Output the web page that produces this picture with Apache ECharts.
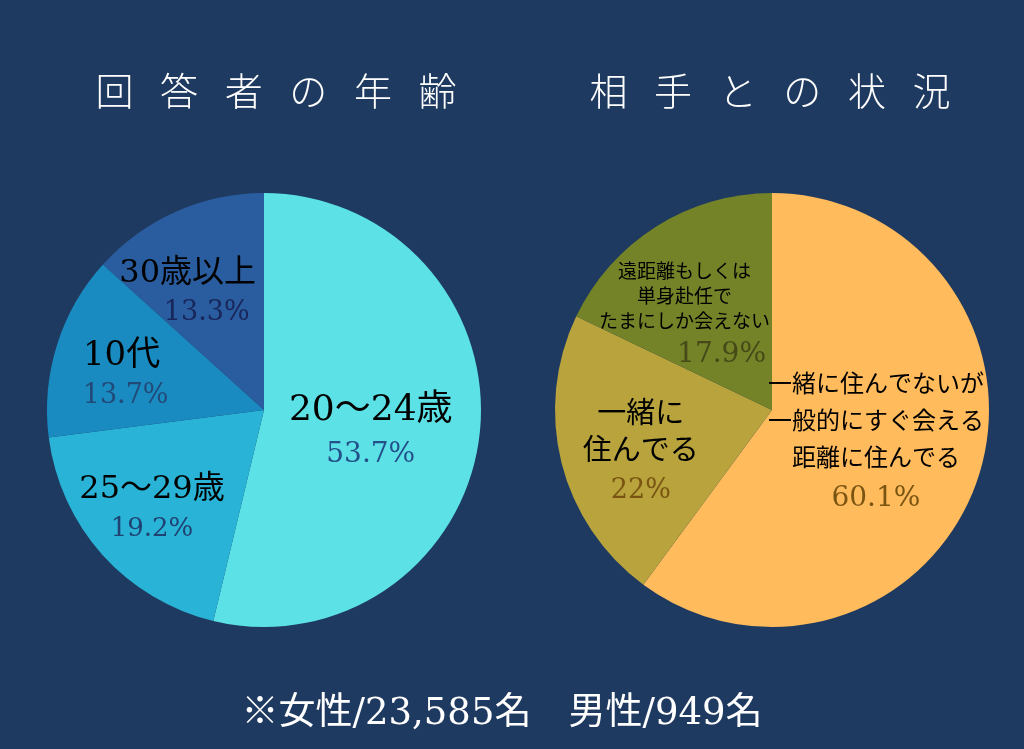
<!DOCTYPE html>
<html><head><meta charset="utf-8">
<script src="https://cdn.jsdelivr.net/npm/echarts@6/dist/echarts.min.js"></script>
<style>html,body{margin:0;padding:0;background:#1f3a60;}#c{width:1024px;height:749px;}</style>
</head><body><div id="c"></div>
<script>
// ---- data ----
var ageNames = ['20～24歳', '25～29歳', '10代', '30歳以上'];
var ageValues = [53.7, 19.2, 13.7, 13.3];
var ageLabels = ['53.7%', '19.2%', '13.7%', '13.3%'];
var partnerNames = ['一緒に住んでないが\n一般的にすぐ会える\n距離に住んでる', '一緒に\n住んでる', '遠距離もしくは\n単身赴任で\nたまにしか会えない'];
var partnerValues = [60.1, 22, 17.9];
var partnerLabels = ['60.1%', '22%', '17.9%'];
var titles = ['回答者の年齢', '相手との状況'];
var footnote = '※女性/23,585名　男性/949名';

// ---- styles ----
var FONT = "'DejaVu Serif', 'Noto Sans CJK JP', serif";
var ageColors = ['#5ce1e6', '#29b3d6', '#1a8bc1', '#2a5d9f'];
var partnerColors = ['#ffbb5c', '#b8a33d', '#748228'];
var ageNameSize = [36, 32, 34, 32];
var agePctColor = ['#24508a', '#1f4272', '#214a78', '#18265a'];
var agePctSize = [28, 26, 27, 27];
var ageNameLH = [48, 40, 40, 38];
var agePctPad = [0, 0, 8, 38];
var ageOffset = [[-4, 8], [-29, 25], [-36, -1], [-31, -14]];
var partnerNameSize = [24, 29, 19];
var partnerNameLH = [37, 37, 25];
var partnerPctSize = [28, 27, 28];
var partnerPctColor = ['#7a5512', '#7a5512', '#454a18'];
var partnerOffset = [[-2, -2], [-23, 17], [-28, 2]];
var partnerPctPad = [0, 0, 74];

function spaced(s) { return s.split('').join('\u2002\u2009'); }

var chart = echarts.init(document.getElementById('c'));
var ageData = ageNames.map(function (n, i) {
  return {
    name: n, value: ageValues[i],
    itemStyle: { color: ageColors[i] },
    label: {
      formatter: '{n|' + n + '}\n{p|' + ageLabels[i] + '}',
      rich: {
        n: { fontFamily: FONT, fontSize: ageNameSize[i], color: '#000', lineHeight: ageNameLH[i] },
        p: { fontFamily: FONT, fontSize: agePctSize[i], color: agePctColor[i], lineHeight: 40, padding: [0, 0, 0, agePctPad[i]] }
      }
    }
  };
});
var partnerData = partnerNames.map(function (n, i) {
  var lines = n.split('\n').map(function (l) { return '{n|' + l + '}'; }).join('\n');
  return {
    name: n, value: partnerValues[i],
    itemStyle: { color: partnerColors[i] },
    label: {
      formatter: lines + '\n{p|' + partnerLabels[i] + '}',
      rich: {
        n: { fontFamily: FONT, fontSize: partnerNameSize[i], color: '#000', lineHeight: partnerNameLH[i] },
        p: { fontFamily: FONT, fontSize: partnerPctSize[i], color: partnerPctColor[i], lineHeight: 40, padding: [0, 0, 0, partnerPctPad[i]] }
      }
    }
  };
});

chart.setOption({
  backgroundColor: '#1f3a60',
  animation: false,
  title: [
    { text: spaced(titles[0]), left: 271, top: 67, textAlign: 'center',
      textStyle: { color: '#fff', fontSize: 38, fontWeight: 300, fontFamily: "'Noto Sans CJK JP'" } },
    { text: spaced(titles[1]), left: 765, top: 67, textAlign: 'center',
      textStyle: { color: '#fff', fontSize: 38, fontWeight: 300, fontFamily: "'Noto Sans CJK JP'" } },
    { text: footnote, left: 497, top: 691, textAlign: 'center',
      textStyle: { color: '#fff', fontSize: 37, fontWeight: 'normal', fontFamily: FONT } }
  ],
  series: [
    {
      type: 'pie', center: [264, 410], radius: [0, 217], startAngle: 90, clockwise: true,
      silent: true, label: { show: true, position: 'inside', overflow: 'none' }, labelLine: { show: false },
      labelLayout: function (p) { return { dx: ageOffset[p.dataIndex][0], dy: ageOffset[p.dataIndex][1] }; },
      data: ageData
    },
    {
      type: 'pie', center: [772, 410], radius: [0, 217], startAngle: 90, clockwise: true,
      silent: true, label: { show: true, position: 'inside', overflow: 'none' }, labelLine: { show: false },
      labelLayout: function (p) { return { dx: partnerOffset[p.dataIndex][0], dy: partnerOffset[p.dataIndex][1] }; },
      data: partnerData
    }
  ]
});
</script></body></html>
